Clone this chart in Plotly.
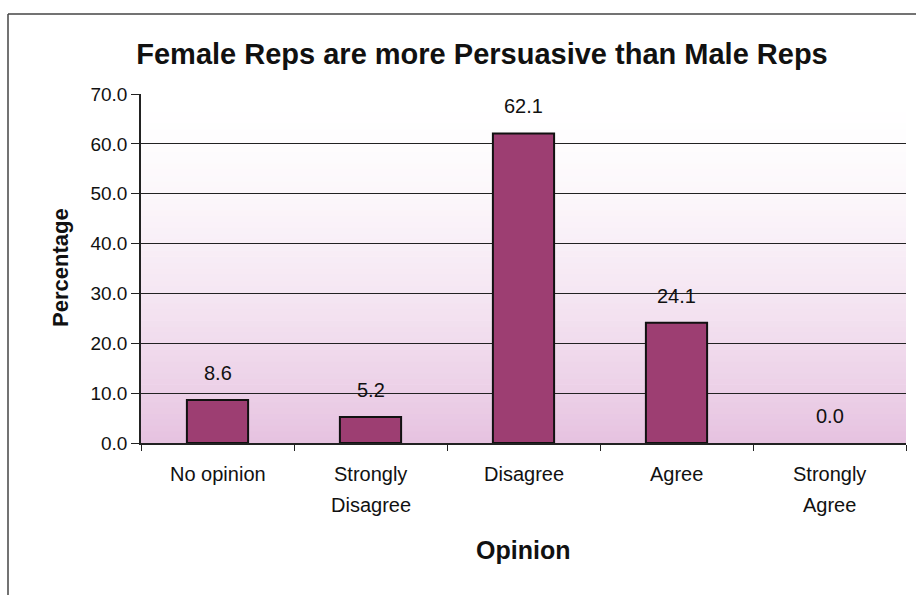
import plotly.graph_objects as go

# Survey responses
categories = ["No opinion", "Strongly Disagree", "Disagree", "Agree", "Strongly Agree"]
label_lines = [["No opinion"], ["Strongly", "Disagree"], ["Disagree"], ["Agree"], ["Strongly", "Agree"]]
percentages = [8.6, 5.2, 62.1, 24.1, 0.0]
y_ticks = [0, 10, 20, 30, 40, 50, 60, 70]

FONT = "Liberation Sans, Arial, sans-serif"
INK = "#111111"
BAR_FILL = "#9D3E72"
W, H = 916, 595
L, R, T, B = 141, 10, 94, 152
PW, PH = W - L - R, H - T - B


def px_x(p):
    return (p - L) / PW


def px_y(p):
    return (H - B - p) / PH


fig = go.Figure()
fig.add_trace(go.Bar(
    x=categories,
    y=percentages,
    marker=dict(color=BAR_FILL,
                line=dict(color=INK, width=[2 if v > 0 else 0 for v in percentages])),
    width=0.4,
    hoverinfo="x+y",
))

# plot-area background: white at the top fading to pink at the bottom
shapes = []
n = 60
top_c = (255, 255, 255)
bot_c = (230, 194, 224)
for i in range(n):
    y0 = i / n
    y1 = (i + 1) / n
    t = 1 - (y0 + y1) / 2
    f = max(0.0, min(1.0, t)) ** 1.6
    c = tuple(int(round(top_c[k] + (bot_c[k] - top_c[k]) * f)) for k in range(3))
    shapes.append(dict(type="rect", xref="x domain", yref="y domain",
                       x0=0, x1=1, y0=y0, y1=y1 + 0.002, layer="below",
                       line=dict(width=0), fillcolor=f"rgb{c}"))

# chart frame (left and top edges)
shapes.append(dict(type="line", xref="paper", yref="paper",
                   x0=px_x(8), x1=px_x(8), y0=px_y(H), y1=px_y(14),
                   line=dict(color="#444444", width=1.5)))
shapes.append(dict(type="line", xref="paper", yref="paper",
                   x0=px_x(8), x1=px_x(W), y0=px_y(14), y1=px_y(14),
                   line=dict(color="#444444", width=1.5)))

annotations = []
# category labels, one annotation per line
for cat, lines in zip(categories, label_lines):
    for j, line in enumerate(lines):
        annotations.append(dict(x=cat, xref="x", y=px_y(474 + 31 * j), yref="paper",
                                text=line, showarrow=False, yanchor="middle",
                                font=dict(family=FONT, size=20, color=INK)))
# value labels above the bars
for cat, v in zip(categories, percentages):
    annotations.append(dict(x=cat, xref="x", y=v, yref="y",
                            text=f"{v:.1f}", showarrow=False,
                            yanchor="middle", yshift=27,
                            font=dict(family=FONT, size=20, color=INK)))
# axis titles
annotations.append(dict(x=px_x(523), xref="paper", y=px_y(550), yref="paper",
                        text="<b>Opinion</b>", showarrow=False,
                        xanchor="center", yanchor="middle",
                        font=dict(family=FONT, size=25, color=INK)))
annotations.append(dict(x=px_x(60), xref="paper", y=px_y(268), yref="paper",
                        text="<b>Percentage</b>", showarrow=False, textangle=-90,
                        xanchor="center", yanchor="middle",
                        font=dict(family=FONT, size=22, color=INK)))

fig.update_layout(
    width=W, height=H,
    margin=dict(l=L, r=R, t=T, b=B),
    paper_bgcolor="white",
    plot_bgcolor="rgba(0,0,0,0)",
    showlegend=False,
    title=dict(text="<b>Female Reps are more Persuasive than Male Reps</b>",
               x=482 / W, xref="container", xanchor="center",
               y=1 - 54 / H, yref="container", yanchor="middle",
               font=dict(family=FONT, size=29, color=INK)),
    xaxis=dict(
        showticklabels=False,
        tickson="boundaries", ticks="outside", ticklen=6, tickcolor="#222222",
        showline=True, linecolor="#222222", linewidth=1.5,
        showgrid=False,
    ),
    yaxis=dict(
        range=[0, 70], tickvals=y_ticks, tickformat=".1f",
        ticks="outside", ticklen=8, tickcolor="#222222",
        tickfont=dict(family=FONT, size=19, color=INK),
        showline=True, linecolor="#222222", linewidth=1.5,
        showgrid=True, gridcolor="#222222", gridwidth=1.2,
        zeroline=False,
    ),
    shapes=shapes,
    annotations=annotations,
)

fig.write_html("out.html")
